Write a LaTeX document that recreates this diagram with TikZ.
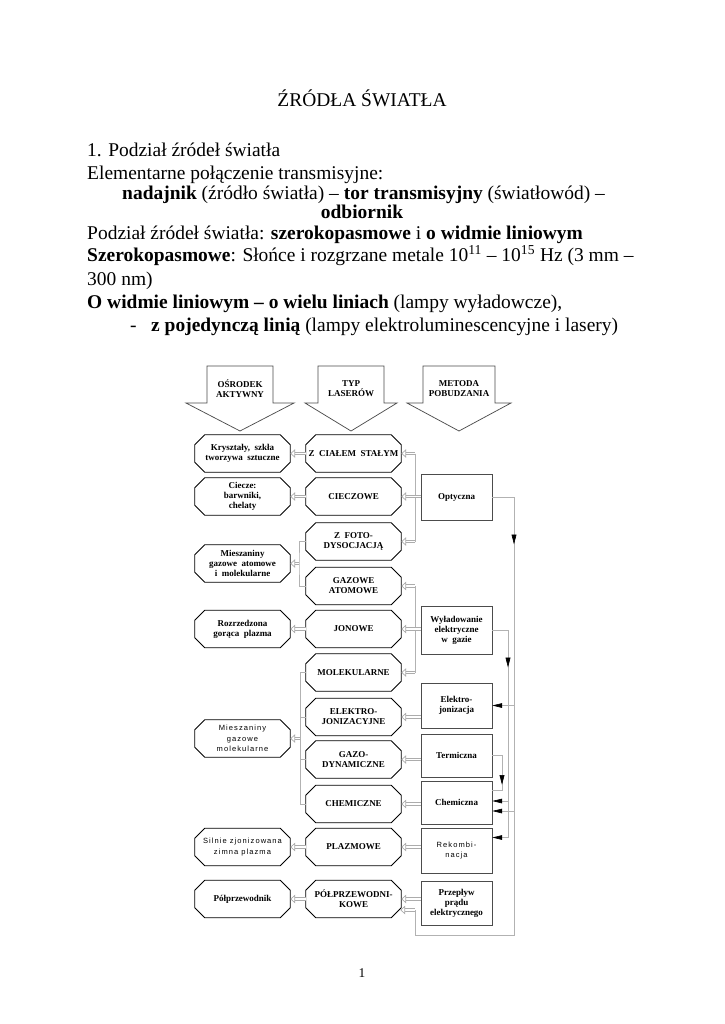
\documentclass[tikz,border=0pt]{standalone}
\usepackage{fontspec}
\setmainfont{Liberation Serif}
\newfontfamily\spc[LetterSpace=14]{Liberation Sans}
\usetikzlibrary{arrows.meta,calc,decorations.markings}
\tikzset{
  txt/.style={anchor=base west, inner sep=0pt, font=\fontsize{16}{18.4}\selectfont},
  octn/.style={minimum width=95*0.8224pt, minimum height=37*0.8224pt, inner sep=0pt, align=center, font=\bfseries\fontsize{7.4}{8.2}\selectfont},
  octd/.style={draw=black, line width=0.7pt},
  rbox/.style={draw=black!70, line width=0.6pt, minimum width=71*0.8224pt, inner sep=0pt, align=center, font=\bfseries\fontsize{7.4}{8.2}\selectfont},
  spcf/.style={font=\spc\fontsize{6.2}{8.4}\selectfont},
  bus/.style={draw=gray!60, line width=0.5pt},
  harr/.style={draw=gray!65, double=white, double distance=1.5pt, line width=0.55pt, -{Triangle[open, length=4pt, width=7pt]}},
  blk/.style={draw=gray!60, line width=0.5pt, -{Triangle[length=8pt, width=3.8pt, color=black]}},
  midarr/.style={postaction={decorate}, decoration={markings, mark=at position #1 with {\arrow[black]{Triangle[length=8pt, width=4pt]}}}},
  bigarr/.style={draw=black!70, line width=0.6pt, fill=white},
  hdr/.style={inner sep=0pt, align=center, font=\bfseries\fontsize{7.4}{8.2}\selectfont}
}
\newcommand\octa[5][]{%
  \node[octn,#1] (#2) at (#3,#4) {#5};
  \draw[octd] ($(#2.north west)+(10,0)$) -- ($(#2.north east)+(-10,0)$) -- ($(#2.north east)+(0,10)$) -- ($(#2.south east)+(0,-10)$) -- ($(#2.south east)+(-10,0)$) -- ($(#2.south west)+(10,0)$) -- ($(#2.south west)+(0,-10)$) -- ($(#2.north west)+(0,10)$) -- cycle;}
\newcommand\bigdown[5]{%
  \draw[bigarr] (#2-#3,366) -- (#2+#3,366) -- (#2+#3,403) -- (#2+#4,403) -- (#2,431) -- (#2-#4,403) -- (#2-#3,403) -- cycle;
  \node[hdr] (#1) at (#2,389) {#5};}
\begin{document}
\begin{tikzpicture}[x=0.8224pt, y=-0.8224pt]
\fill[white] (0,0) rectangle (724,1024);
\useasboundingbox (0,0) rectangle (724,1024);

% ---- text ----
\node[txt, anchor=base] (t0) at (362,107) {ŹRÓDŁA ŚWIATŁA};
\node[txt] (t1) at (87,157) {1. Podział źródeł światła};
\node[txt] (t2) at (87,180) {Elementarne połączenie transmisyjne:};
\node[txt] (t3) at (122,200) {\textbf{nadajnik} (źródło światła) – \textbf{tor transmisyjny} (światłowód) –};
\node[txt, anchor=base] (t4) at (362,219) {\textbf{odbiornik}};
\node[txt] (t5) at (87,240) {Podział źródeł światła: \textbf{szerokopasmowe} i \textbf{o widmie liniowym}};
\node[txt] (t6) at (87,262) {\textbf{Szerokopasmowe}: Słońce i rozgrzane metale 10\textsuperscript{11} – 10\textsuperscript{15} Hz (3 mm –};
\node[txt] (t7) at (87,285) {300 nm)};
\node[txt] (t8) at (87,308) {\textbf{O widmie liniowym – o wielu liniach} (lampy wyładowcze),};
\node[txt] (t9) at (130,331) {-};
\node[txt] (t10) at (151,331) {\textbf{z pojedynczą linią} (lampy elektroluminescencyjne i lasery)};
\node[inner sep=0pt, font=\fontsize{11}{12}\selectfont] (pg) at (362,973) {1};

% ---- header arrows ----
\bigdown{h1}{240}{33}{54}{OŚRODEK\\AKTYWNY}
\bigdown{h2}{351}{33}{46}{TYP\\LASERÓW}
\bigdown{h3}{459}{36}{52}{METODA\\POBUDZANIA}

% ---- left column ----
\octa{kry}{242.5}{453.5}{Kryształy,\ \ szkła\\tworzywa\ \ sztuczne}
\octa{cil}{242.5}{496.5}{Ciecze:\\barwniki,\\chelaty}
\octa{mat}{242.5}{563.5}{Mieszaniny\\gazowe\ \ atomowe\\i\ \ molekularne}
\octa{roz}{242.5}{629}{Rozrzedzona\\gorąca\ \ plazma}
\octa[spcf]{mmo}{242.5}{738.5}{Mieszaniny\\gazowe\\molekularne}
\octa[spcf]{sil}{242.5}{847}{Silnie zjonizowana\\zimna plazma}
\octa{pol}{242.5}{899}{Półprzewodnik}

% ---- middle column ----
\octa{zcs}{353.5}{453.5}{Z\ \ CIAŁEM\ \ STAŁYM}
\octa{cie}{353.5}{496.5}{CIECZOWE}
\octa{zfo}{353.5}{541.5}{Z\ \ FOTO-\\DYSOCJACJĄ}
\octa{gat}{353.5}{586}{GAZOWE\\ATOMOWE}
\octa{jon}{353.5}{629}{JONOWE}
\octa{mol}{353.5}{672.5}{MOLEKULARNE}
\octa{elk}{353.5}{717}{ELEKTRO-\\JONIZACYJNE}
\octa{gaz}{353.5}{759.5}{GAZO-\\DYNAMICZNE}
\octa{che}{353.5}{804}{CHEMICZNE}
\octa{plz}{353.5}{847}{PLAZMOWE}
\octa{ppl}{353.5}{899}{PÓŁPRZEWODNI-\\KOWE}

% ---- right column ----
\node[rbox, minimum height=46*0.8224pt] (opt) at (456.5,497) {Optyczna};
\node[rbox, minimum height=48*0.8224pt] (wyl) at (456.5,630) {Wyładowanie\\elektryczne\\w\ \ gazie};
\node[rbox, minimum height=45*0.8224pt] (elj) at (456.5,705.5) {Elektro-\\jonizacja};
\node[rbox, minimum height=43*0.8224pt] (ter) at (456.5,755.5) {Termiczna};
\node[rbox, minimum height=43*0.8224pt] (chm) at (456.5,802.5) {Chemiczna};
\node[rbox, minimum height=45*0.8224pt, spcf] (rek) at (456.5,850.5) {Rekombi-\\nacja};
\node[rbox, minimum height=44*0.8224pt] (prz) at (456.5,903) {Przepływ\\prądu\\elektrycznego};

% ---- helper coordinates ----
\coordinate (mbx) at (299,0);
\coordinate (mmx) at (300,0);
\coordinate (obx) at (415,0);
\coordinate (rx1) at (514,0);
\coordinate (rx2) at (508,0);
\coordinate (rx3) at (502,0);
\coordinate (bot) at (0,935);
\coordinate (pin) at ($(ppl.east)+(-1,11)$);
\coordinate (rin) at ($(rek.east)+(0,-13)$);
\coordinate (ch1) at ($(chm.east)+(0,-1.5)$);
\coordinate (ch2) at ($(chm.east)+(0,8.5)$);
\coordinate (ch3) at ($(chm.east)+(0,-12.5)$);

% ---- middle -> left ----
\draw[harr] (zcs.west) -- (kry.east);
\draw[harr] (cie.west) -- (cil.east);
\draw[bus] (zfo.west) -| (mbx |- mat.east) |- (gat.west);
\draw[harr] (mbx |- mat.east) -- (mat.east);
\draw[harr] (jon.west) -- (roz.east);
\draw[bus] (mol.west) -| (mmx |- che.west) -- (che.west);
\draw[bus] (mmx |- elk.west) -- (elk.west);
\draw[bus] (mmx |- gaz.west) -- (gaz.west);
\draw[harr] (mmx |- mmo.east) -- (mmo.east);
\draw[harr] (plz.west) -- (sil.east);
\draw[harr] (ppl.west) -- (pol.east);

% ---- right -> middle ----
\draw[bus] (obx |- zcs.east) -- (obx |- zfo.east);
\draw[harr] (obx |- zcs.east) -- (zcs.east);
\draw[harr] (opt.west |- cie.east) -- (cie.east);
\draw[harr] (obx |- zfo.east) -- (zfo.east);
\draw[bus] (obx |- gat.east) -- (obx |- mol.east);
\draw[harr] (obx |- gat.east) -- (gat.east);
\draw[harr] (wyl.west |- jon.east) -- (jon.east);
\draw[harr] (obx |- mol.east) -- (mol.east);
\draw[harr] (elj.west |- elk.east) -- (elk.east);
\draw[harr] (ter.west |- gaz.east) -- (gaz.east);
\draw[harr] (chm.west |- che.east) -- (che.east);
\draw[harr] (rek.west |- plz.east) -- (plz.east);
\draw[harr] (prz.west |- ppl.east) -- (ppl.east);

% ---- far right buses ----
\draw[bus, midarr=56.7pt] (opt.east) -| (rx1 |- bot) -| (obx |- pin);
\draw[harr] (obx |- pin) -- (pin);
\draw[blk] (rx1 |- elj.east) -- (elj.east);
\draw[blk] (rx1 |- ch2) -- (ch2);
\draw[blk, midarr=43.6pt] (wyl.east) -| (rx2 |- rin) -- (rin);
\draw[blk] (rx2 |- ch1) -- (ch1);
\draw[bus, midarr=32pt] (ter.east) -| (rx3 |- ch3) -- (ch3);
\end{tikzpicture}
\end{document}
